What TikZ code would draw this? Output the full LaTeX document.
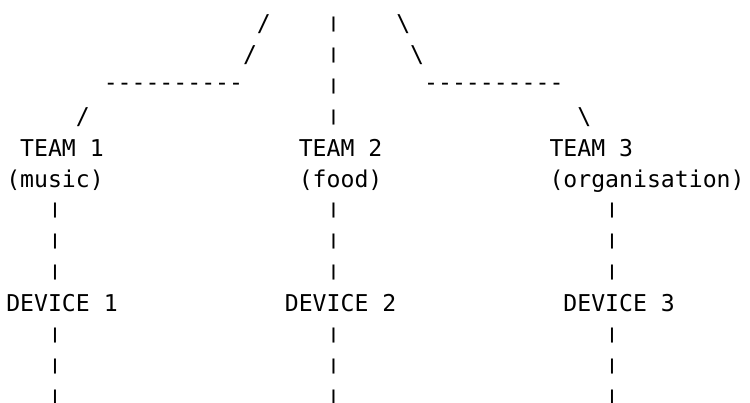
\documentclass[tikz,border=0pt]{standalone}
\usepackage{fontspec}
\newfontfamily\asc{DejaVu Sans Mono}[Ligatures=TeXOff]
\newcommand\vbar{\raisebox{3.55pt}{\scalebox{1}[0.65]{|}}}
\newcommand\dashrow{\raisebox{3.5pt}{----------}}
\tikzset{
  ascii/.style={anchor=base west, inner sep=0pt, outer sep=0pt,
    font=\asc\fontsize{23.14pt}{23.14pt}\selectfont, text=black}
}
\begin{document}
\begin{tikzpicture}[x=13.93pt, y=-31.1pt]
\useasboundingbox (-6.25pt,31.6pt) rectangle (743.75pt,-370.4pt);
% row 0
\node[ascii] (s0l) at (18,0) {/};
\node[ascii] (b0)  at (23,0) {\vbar};
\node[ascii] (s0r) at (28,0) {\textbackslash};
% row 1
\node[ascii] (s1l) at (17,1) {/};
\node[ascii] (b1)  at (23,1) {\vbar};
\node[ascii] (s1r) at (29,1) {\textbackslash};
% row 2
\node[ascii] (dl)  at (7,2) {\dashrow};
\node[ascii] (b2)  at (23,2) {\vbar};
\node[ascii] (dr)  at (30,2) {\dashrow};
% row 3
\node[ascii] (s3l) at (5,3) {/};
\node[ascii] (b3)  at (23,3) {\vbar};
\node[ascii] (s3r) at (41,3) {\textbackslash};
% teams
\node[ascii] (t1) at (1,4) {TEAM 1};
\node[ascii] (t2) at (21,4) {TEAM 2};
\node[ascii] (t3) at (39,4) {TEAM 3};
\node[ascii] (p1) at (0,5) {(music)};
\node[ascii] (p2) at (21,5) {(food)};
\node[ascii] (p3) at (39,5) {(organisation)};
% bars to devices
\foreach \r in {6,7,8,10,11,12}{
  \node[ascii] (l\r) at (3,\r) {\vbar};
  \node[ascii] (m\r) at (23,\r) {\vbar};
  \node[ascii] (r\r) at (43,\r) {\vbar};
}
% devices
\node[ascii] (d1) at (0,9) {DEVICE 1};
\node[ascii] (d2) at (20,9) {DEVICE 2};
\node[ascii] (d3) at (40,9) {DEVICE 3};
\end{tikzpicture}
\end{document}
